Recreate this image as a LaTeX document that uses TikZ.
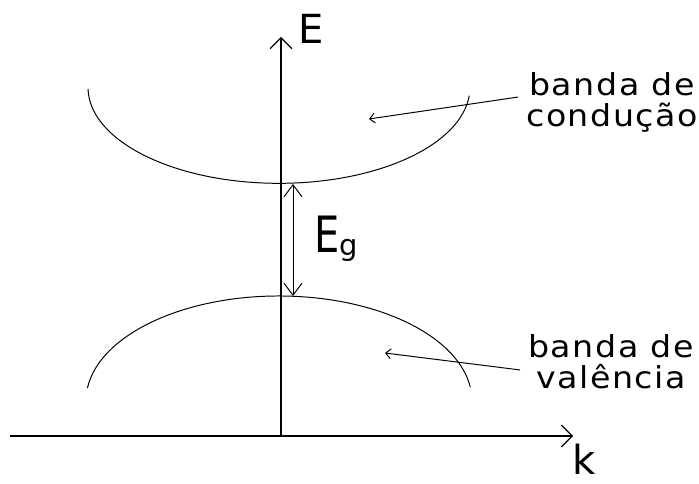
\documentclass[tikz,border=0pt]{standalone}
\usepackage{fontspec}
\setmainfont{DejaVu Sans}
\newfontfamily\lblfont[LetterSpace=5,FakeStretch=1.1]{DejaVu Sans}
\usepackage{tikz}
\usetikzlibrary{arrows.meta}

\begin{document}
\begin{tikzpicture}[
  x=0.025cm, y=-0.025cm,
  axis/.style={line width=0.8pt, -{Straight Barb[length=7.8pt,width=15.6pt]}},
  band/.style={line width=0.7pt},
  gap/.style={line width=0.7pt,
              {Straight Barb[length=8.5pt,width=12.8pt]}-{Straight Barb[length=8.5pt,width=12.8pt]}},
  pointer/.style={line width=0.7pt, -{Straight Barb[length=3.6pt,width=7pt]}},
  axlabel/.style={font=\fontsize{28.5}{28.5}\selectfont, inner sep=0pt, anchor=base west},
  bandlabel/.style={font=\lblfont\fontsize{21.5}{22}\selectfont, align=center,
                    inner xsep=5.7pt, inner ysep=0pt},
]
\useasboundingbox[fill=white] (0,0) rectangle (699,484);

\coordinate (origin) at (281,436);
\coordinate (etop)   at (281,37);
\coordinate (kleft)  at (10,436);
\coordinate (kright) at (573,436);
\coordinate (cbmin)  at (293,184);
\coordinate (vbmax)  at (293,296);
\coordinate (condtip) at (369,119);
\coordinate (valtip)  at (385,353);

\node[axlabel] (elbl) at (298,44)  {E};
\node[axlabel] (klbl) at (572,475) {k};
\node[inner sep=0pt, anchor=base west] (eg) at (314,253)
     {\scalebox{0.8}[1]{\fontsize{35.6}{35.6}\selectfont E}%
      \raisebox{-2.1pt}{\fontsize{20.6}{20.6}\selectfont g}};
\node[bandlabel] (cond) at (612,102) {banda de\\condução};
\node[bandlabel] (val)  at (611,362) {banda de\\valência};

\draw[axis] (kleft) -- (kright);
\draw[axis] (origin) -- (etop);

\draw[band] (88,89) arc[start angle=179, end angle=5, x radius=191, y radius=96];
\draw[band] (87.4,388.2) arc[start angle=187, end angle=352.5, x radius=193, y radius=105];

\draw[gap] (cbmin) -- (vbmax);
\draw[pointer] (cond.177) -- (condtip);
\draw[pointer] (val.185)  -- (valtip);
\end{tikzpicture}
\end{document}
